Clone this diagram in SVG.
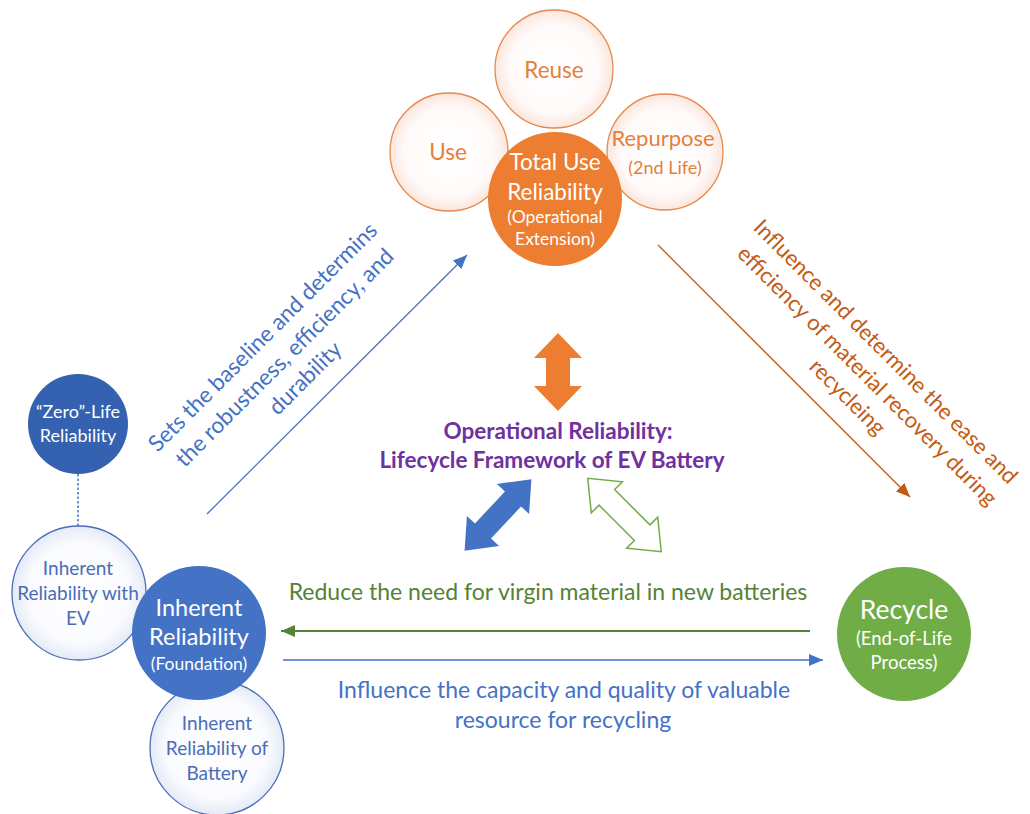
<svg xmlns="http://www.w3.org/2000/svg" width="1030" height="814" viewBox="0 0 1030 814">
<defs>
<radialGradient id="gO" cx="50%" cy="50%" r="50%">
<stop offset="0%" stop-color="#ffffff"/><stop offset="75%" stop-color="#fffafa"/><stop offset="100%" stop-color="#fbe6dc"/>
</radialGradient>
<radialGradient id="gB" cx="50%" cy="50%" r="50%">
<stop offset="0%" stop-color="#ffffff"/><stop offset="75%" stop-color="#fafbfe"/><stop offset="100%" stop-color="#e4eaf6"/>
</radialGradient>
<marker id="mBlue" markerUnits="userSpaceOnUse" markerWidth="16" markerHeight="14" refX="14" refY="7" orient="auto"><path d="M0,1 L14,7 L0,13 Z" fill="#4472C4"/></marker>
<marker id="mOrange" markerUnits="userSpaceOnUse" markerWidth="16" markerHeight="14" refX="14" refY="7" orient="auto"><path d="M0,1 L14,7 L0,13 Z" fill="#C55A11"/></marker>
<marker id="mGreen" markerUnits="userSpaceOnUse" markerWidth="16" markerHeight="14" refX="14" refY="7" orient="auto"><path d="M0,1 L14,7 L0,13 Z" fill="#548235"/></marker>
</defs>
<style>
text{font-family:Lato,"Liberation Sans",sans-serif;text-anchor:middle}
.oc{fill:url(#gO);stroke:#E58A4E;stroke-width:1.3}
.bc{fill:url(#gB);stroke:#4A6DB8;stroke-width:1.3}
.ot{fill:#E47F3C}
.bt{fill:#4A6DB8;font-size:19px}
.wt{fill:#ffffff}
</style>
<rect width="1030" height="814" fill="#ffffff"/>

<g id="connectors">
<line x1="78" y1="474" x2="78" y2="527" stroke="#4472C4" stroke-width="1.5" stroke-dasharray="2.5,2"/>
<line x1="207" y1="514" x2="467" y2="255" stroke="#4472C4" stroke-width="1.3" marker-end="url(#mBlue)"/>
<line x1="658" y1="245" x2="910" y2="497" stroke="#C55A11" stroke-width="1.3" marker-end="url(#mOrange)"/>
<line x1="810" y1="631" x2="281" y2="631" stroke="#548235" stroke-width="2" marker-end="url(#mGreen)"/>
<line x1="283" y1="660" x2="823" y2="660" stroke="#6F93D6" stroke-width="2" marker-end="url(#mBlue)"/>
<polygon points="558,333 582,358 570,358 570,386 582,386 558,411 534,386 546,386 546,358 534,358" fill="#ED7D31"/>
<polygon transform="translate(498,515) rotate(-47)" points="49,0 22,-22 22,-11 -22,-11 -22,-22 -49,0 -22,22 -22,11 22,11 22,22" fill="#4472C4"/>
<polygon transform="translate(624.5,515) rotate(45)" points="52,0 25,-22 25,-11 -25,-11 -25,-22 -52,0 -25,22 -25,11 25,11 25,22" fill="#ffffff" stroke="#70AD47" stroke-width="1.5"/>
</g>

<g id="label-sets">
<g transform="translate(290,363) rotate(-45)" fill="#4472C4" font-size="22.5">
<text x="-1" y="-30">Sets the baseline and determins</text>
<text x="0" y="0">the robustness, efficiency, and</text>
<text x="0" y="29">durability</text>
</g>
</g>
<g id="label-influence">
<g transform="translate(862,381) rotate(45)" fill="#C55A11" font-size="22">
<text x="-4" y="-30">Influence and determine the ease and</text>
<text x="0" y="0">efficiency of material recovery during</text>
<text x="1" y="29">recycleing</text>
</g>
</g>
<g id="label-title" font-weight="bold" fill="#7030A0" font-size="22.5">
<text x="558" y="439">Operational Reliability:</text>
<text x="552" y="468">Lifecycle Framework of EV Battery</text>
</g>
<g id="label-reduce"><text x="548" y="600" fill="#548235" font-size="23">Reduce the need for virgin material in new batteries</text></g>
<g id="label-capacity" fill="#4472C4" font-size="23">
<text x="564" y="698">Influence the capacity and quality of valuable</text>
<text x="563" y="728">resource for recycling</text>
</g>

<g id="node-reuse"><circle class="oc" cx="554" cy="69" r="59"/><text class="ot" x="554" y="78" font-size="22.5">Reuse</text></g>
<g id="node-use"><circle class="oc" cx="449" cy="152" r="59"/><text class="ot" x="448" y="160" font-size="22.5">Use</text></g>
<g id="node-repurpose"><circle class="oc" cx="665" cy="152" r="58"/><text class="ot" x="663" y="146" font-size="22">Repurpose</text><text class="ot" x="665" y="174" font-size="18">(2nd Life)</text></g>
<g id="node-total-use"><circle cx="555" cy="199" r="67" fill="#ED7D31"/>
<text class="wt" x="555" y="170" font-size="22.5">Total Use</text>
<text class="wt" x="555" y="200" font-size="22.5">Reliability</text>
<text class="wt" x="555" y="223" font-size="17.5">(Operational</text>
<text class="wt" x="555" y="245" font-size="17.5">Extension)</text></g>

<g id="node-zero-life"><circle cx="78" cy="424" r="50" fill="#3461B0"/>
<text class="wt" x="78" y="418" font-size="18">“Zero”-Life</text>
<text class="wt" x="78" y="442" font-size="18">Reliability</text></g>
<g id="node-inherent-ev"><circle class="bc" cx="79" cy="593" r="67"/>
<text class="bt" x="78" y="575">Inherent</text>
<text class="bt" x="78" y="600">Reliability with</text>
<text class="bt" x="78" y="625">EV</text></g>
<g id="node-inherent-battery"><circle class="bc" cx="217" cy="748" r="67"/>
<text class="bt" x="217" y="730">Inherent</text>
<text class="bt" x="217" y="755">Reliability of</text>
<text class="bt" x="217" y="780">Battery</text></g>
<g id="node-inherent"><circle cx="199" cy="633" r="67" fill="#4472C4"/>
<text class="wt" x="199" y="616" font-size="23.5">Inherent</text>
<text class="wt" x="199" y="645" font-size="23.5">Reliability</text>
<text class="wt" x="199" y="670" font-size="17.5">(Foundation)</text></g>
<g id="node-recycle"><circle cx="904" cy="634" r="67" fill="#70AD47"/>
<text class="wt" x="904" y="619" font-size="26.5">Recycle</text>
<text class="wt" x="904" y="645" font-size="18.5">(End-of-Life</text>
<text class="wt" x="904" y="669" font-size="18.5">Process)</text></g>
</svg>
